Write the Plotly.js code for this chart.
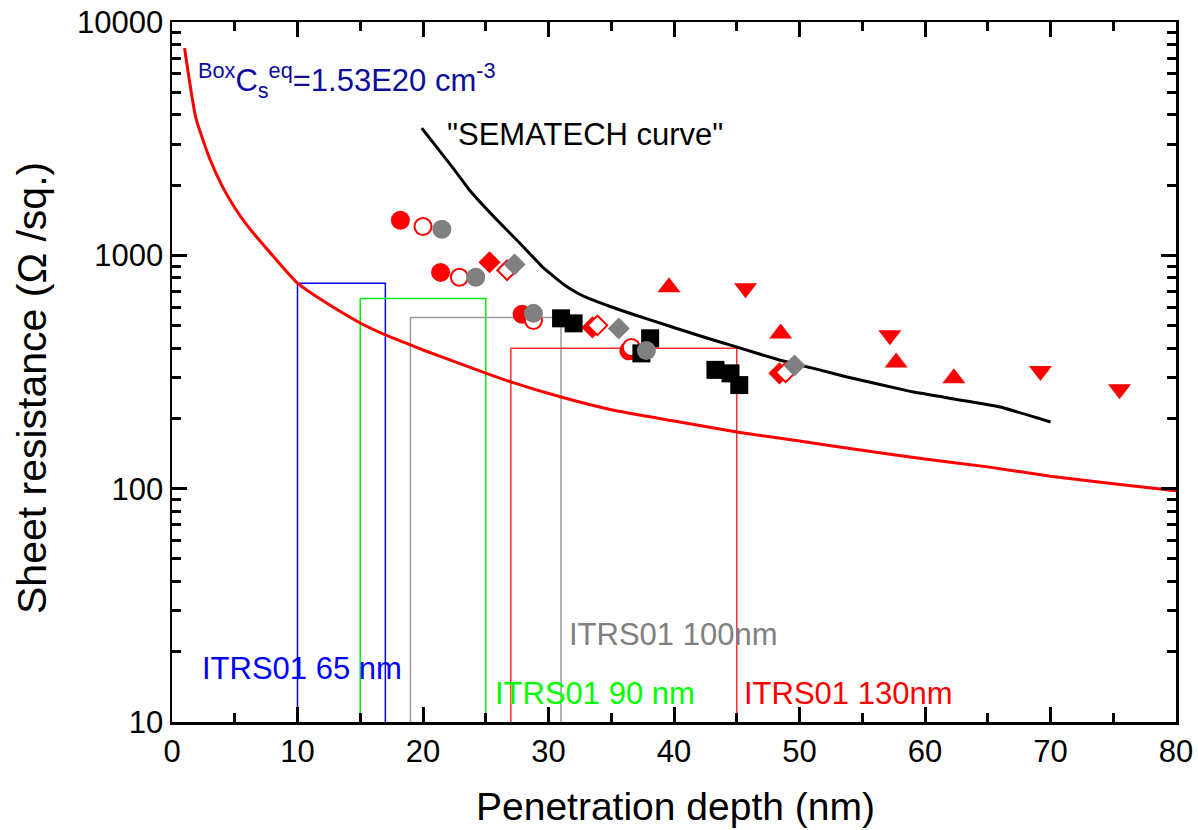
<!DOCTYPE html>
<html>
<head>
<meta charset="utf-8">
<script src="https://cdn.plot.ly/plotly-3.0.1.min.js"></script>
<style>html,body{margin:0;padding:0;background:#fff;}#chart{width:1198px;height:830px;}</style>
</head>
<body>
<div id="chart"></div>
<script>
// Box C_s^eq model curve (red line)
const boxCurveX = [1.0, 1.9, 3, 4, 5, 6, 8, 10, 12, 15, 17, 19, 20, 25, 27, 31, 35, 40, 45, 50, 55, 60, 65, 70, 75, 80];
const boxCurveY = [7740, 3880, 2600, 1980, 1600, 1340, 1000, 760, 640, 513, 456, 413, 393, 313, 287, 247, 218, 195, 175, 160, 146, 134, 124, 113, 105, 98];

// "SEMATECH curve" (black line)
const semaX = [19.9, 22.4, 23.7, 25.9, 27.7, 29.6, 30.5, 31.3, 32.3, 33.3, 35.7, 38.1, 42.1, 44.7, 48.4, 51.6, 53.8, 59.0, 66.0, 69.2, 70.0];
const semaY = [3510, 2365, 1905, 1416, 1130, 883, 805, 745, 690, 650, 583, 529, 451, 409, 356, 323, 301, 260, 224, 199, 193];

// Data points
const redCircleX = [18.2, 21.4, 27.9, 36.4];
const redCircleY = [1413, 845, 559, 390];
const redOpenCircleX = [20.0, 22.9, 28.8, 36.6];
const redOpenCircleY = [1330, 806, 526, 403];
const grayCircleX = [21.5, 24.2, 28.8, 37.8];
const grayCircleY = [1294, 806, 564, 391];
const redDiamondX = [25.3, 33.5, 48.4];
const redDiamondY = [934, 491, 312];
const redOpenDiamondX = [26.7, 33.9, 48.9];
const redOpenDiamondY = [863, 501, 315];
const grayDiamondX = [27.3, 35.6, 49.6];
const grayDiamondY = [914, 486, 337];
const blackSquareX = [31.0, 32.0, 37.4, 38.1, 43.3, 44.5, 45.2];
const blackSquareY = [537, 511, 380, 441, 323, 312, 278];
const triUpX = [39.6, 48.5, 57.7, 62.3];
const triUpY = [729, 462, 347, 297];
const triDownX = [45.7, 57.2, 69.2, 75.5];
const triDownY = [722, 454, 319, 267];

// ITRS01 windows: x min, x max, max sheet resistance
const itrsNames = ['ITRS01 65 nm', 'ITRS01 90 nm', 'ITRS01 100nm', 'ITRS01 130nm'];
const itrsXmin = [10, 15, 19, 27];
const itrsXmax = [17, 25, 31, 45];
const itrsRmax = [760, 653, 542, 400];
const itrsColors = ['#0000ff', '#00ee00', '#9a9a9a', '#ff3030'];
const itrsLabelColors = ['#0000ff', '#00ff00', '#808080', '#ff0000'];
const itrsLabelX = [2.2, 25.6, 31.5, 45.4];
const itrsLabelY = [17.0, 13.3, 23.6, 13.3];

// Axis ticks
const xMajorTicks = [0, 10, 20, 30, 40, 50, 60, 70, 80];
const xMinorTicks = [5, 15, 25, 35, 45, 55, 65, 75];
const yMajorTicks = [10, 100, 1000, 10000];
const yMajorLabels = ['10', '100', '1000', '10000'];
const yMinorTicks = [20, 30, 40, 50, 60, 70, 80, 90, 200, 300, 400, 500, 600, 700, 800, 900, 2000, 3000, 4000, 5000, 6000, 7000, 8000, 9000];

const FONT = 'Liberation Sans, Arial, sans-serif';
const RMIN = 10;
const X_RANGE = [0, 80];
const Y_RANGE_LOG = [1, 4];
const M = {l: 172, r: 22, t: 22, b: 108};
const W = 1198, H = 830;
const PW = W - M.l - M.r, PH = H - M.t - M.b;

const traces = [];
for (let i = 0; i < itrsNames.length; i++) {
  traces.push({
    x: [itrsXmin[i], itrsXmin[i], itrsXmax[i], itrsXmax[i]],
    y: [RMIN, itrsRmax[i], itrsRmax[i], RMIN],
    mode: 'lines', line: {color: itrsColors[i], width: 1.5},
    hoverinfo: 'skip'
  });
}
traces.push({x: boxCurveX, y: boxCurveY, mode: 'lines', line: {color: '#ff0000', width: 3, shape: 'spline', smoothing: 0.5}});
traces.push({x: semaX, y: semaY, mode: 'lines', line: {color: '#000000', width: 3, shape: 'spline', smoothing: 0.3}});

function mk(x, y, symbol, size, color, lineColor, lineWidth) {
  return {x: x, y: y, mode: 'markers',
    marker: {symbol: symbol, size: size, color: color, line: {color: lineColor, width: lineWidth}}};
}
traces.push(mk(redCircleX, redCircleY, 'circle', 19, '#ff0000', '#ff0000', 0));
traces.push(mk(redOpenCircleX, redOpenCircleY, 'circle', 17, '#ffffff', '#ff0000', 2));
traces.push(mk(redDiamondX, redDiamondY, 'diamond', 17, '#ff0000', '#ff0000', 0));
traces.push(mk(redOpenDiamondX, redOpenDiamondY, 'diamond', 15, '#ffffff', '#ff0000', 2));
traces.push(mk(blackSquareX, blackSquareY, 'square', 18, '#000000', '#000000', 0));
traces.push(mk(grayCircleX, grayCircleY, 'circle', 19, '#808080', '#808080', 0));
traces.push(mk(grayDiamondX, grayDiamondY, 'diamond', 17, '#808080', '#808080', 0));
traces.push(mk(triUpX, triUpY, 'triangle-up', 20, '#ff0000', '#ff0000', 0));
traces.push(mk(triDownX, triDownY, 'triangle-down', 20, '#ff0000', '#ff0000', 0));

const annotations = [];
for (let i = 0; i < itrsNames.length; i++) {
  annotations.push({x: itrsLabelX[i], y: Math.log10(itrsLabelY[i]), xref: 'x', yref: 'y',
    text: itrsNames[i], showarrow: false, xanchor: 'left', yanchor: 'middle',
    font: {family: FONT, size: 31, color: itrsLabelColors[i]}});
}
annotations.push({x: 21.75, y: Math.log10(3280), xref: 'x', yref: 'y', text: '"SEMATECH curve"',
  showarrow: false, xanchor: 'left', yanchor: 'middle', font: {family: FONT, size: 31, color: '#000'}});
annotations.push({x: 1.9, y: Math.log10(5600), xref: 'x', yref: 'y',
  text: '<sup>Box</sup>C<sub>s</sub><sup>eq</sup>=1.53E20 cm<sup>-3</sup>',
  showarrow: false, xanchor: 'left', yanchor: 'middle', font: {family: FONT, size: 31, color: '#0c0c9c'}});
// axis titles
annotations.push({xref: 'paper', yref: 'paper', x: (675 - M.l) / PW, y: -(806 - (M.t + PH)) / PH,
  text: 'Penetration depth (nm)', showarrow: false, xanchor: 'center', yanchor: 'middle',
  font: {family: FONT, size: 39, color: '#000'}});
annotations.push({xref: 'paper', yref: 'paper', x: -(M.l - 32) / PW, y: ((M.t + PH) - 388) / PH,
  text: 'Sheet resistance (Ω /sq.)', textangle: -90, showarrow: false, xanchor: 'center', yanchor: 'middle',
  font: {family: FONT, size: 41, color: '#000'}});

const axisCommon = {
  showgrid: false, zeroline: false, showline: true, linecolor: '#000', linewidth: 2.5,
  mirror: 'ticks', ticks: 'inside', ticklen: 15, tickwidth: 3, tickcolor: '#000',
  tickfont: {family: FONT, size: 31, color: '#000'}
};

const layout = {
  width: W, height: H,
  margin: M,
  paper_bgcolor: '#fff', plot_bgcolor: '#fff',
  showlegend: false,
  xaxis: Object.assign({}, axisCommon, {
    range: X_RANGE, tickmode: 'array', tickvals: xMajorTicks,
    minor: {tickmode: 'array', tickvals: xMinorTicks, ticks: 'inside', ticklen: 9, tickwidth: 3, tickcolor: '#000', showgrid: false}
  }),
  yaxis: Object.assign({}, axisCommon, {
    type: 'log', range: Y_RANGE_LOG, tickmode: 'array', tickvals: yMajorTicks, ticktext: yMajorLabels,
    minor: {tickmode: 'array', tickvals: yMinorTicks, ticks: 'inside', ticklen: 9, tickwidth: 3, tickcolor: '#000', showgrid: false}
  }),
  annotations: annotations
};

Plotly.newPlot('chart', traces, layout, {displayModeBar: false, staticPlot: true});
</script>
</body>
</html>
